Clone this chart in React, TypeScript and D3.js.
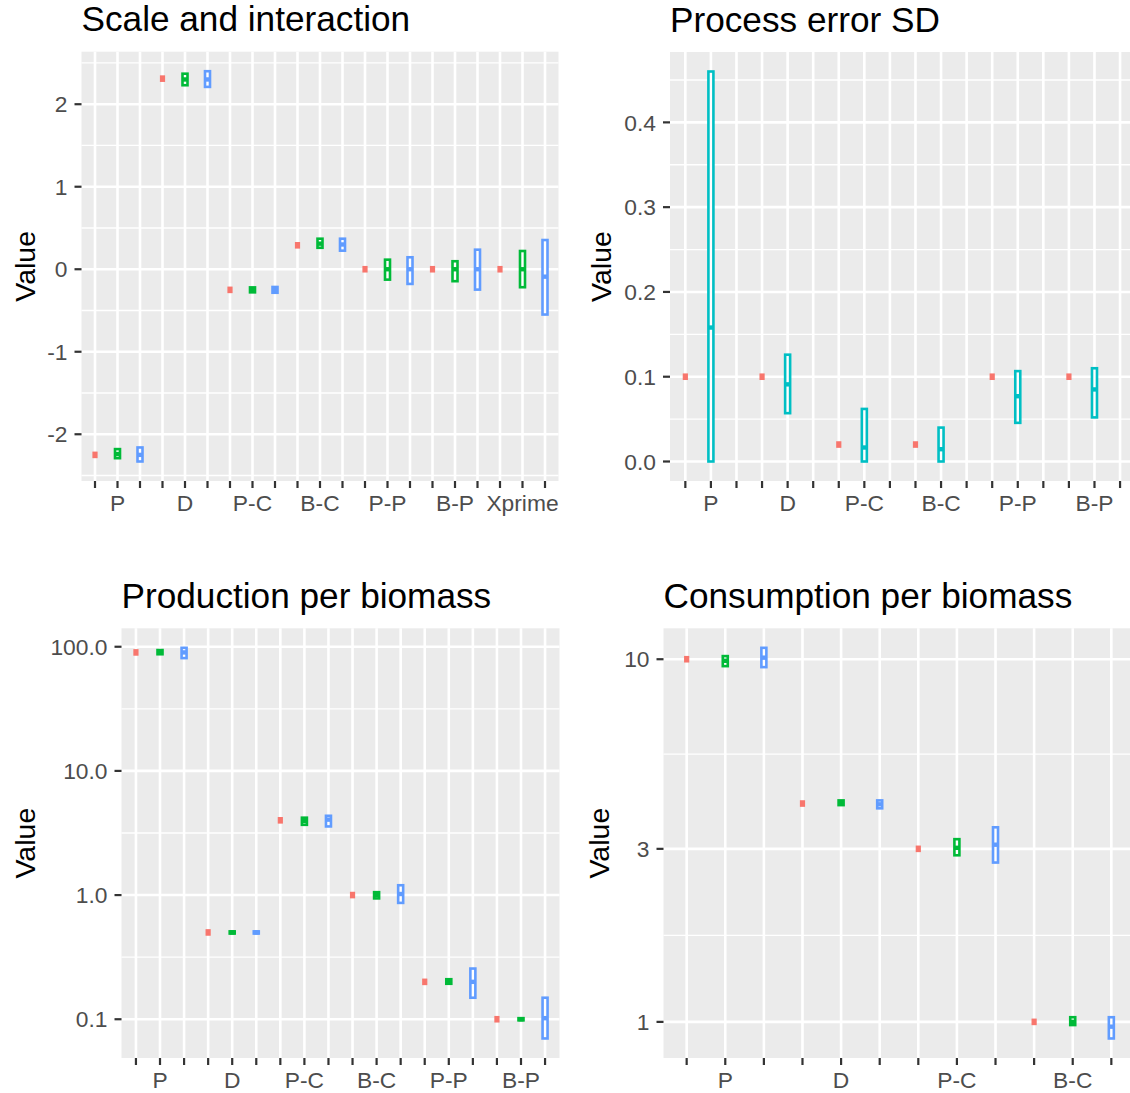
import React from "react";
import * as d3 from "d3";

// colours (ggplot hue palette)
const cRed = "#F8766D";
const cGreen = "#00BA38";
const cBlue = "#619CFF";
const cCyan = "#00BFC4";

// --- Scale and interaction ---
const scaleCats = ["P", "D", "P-C", "B-C", "P-P", "B-P", "Xprime"];
const scaleTruth = [-2.25, 2.31, -0.25, 0.29, 0, 0, 0];
// [lower hinge, median, upper hinge]
const scaleGreen = [
  [-2.29, -2.24, -2.18],
  [2.23, 2.3, 2.37],
  [-0.28, -0.25, -0.22],
  [0.26, 0.31, 0.37],
  [-0.126, 0, 0.116],
  [-0.145, 0, 0.097],
  [-0.218, 0, 0.221],
];
const scaleBlue = [
  [-2.33, -2.25, -2.16],
  [2.21, 2.3, 2.4],
  [-0.285, -0.25, -0.215],
  [0.225, 0.3, 0.37],
  [-0.178, 0, 0.145],
  [-0.247, 0, 0.237],
  [-0.549, -0.09, 0.354],
];
const scaleTicks = [-2, -1, 0, 1, 2];

// --- Process error SD ---
const sdCats = ["P", "D", "P-C", "B-C", "P-P", "B-P"];
const sdTruth = [0.1, 0.1, 0.02, 0.02, 0.1, 0.1];
const sdEst = [
  [0.0, 0.158, 0.46],
  [0.057, 0.091, 0.126],
  [0.0, 0.0165, 0.062],
  [0.0, 0.0145, 0.04],
  [0.0456, 0.077, 0.1066],
  [0.052, 0.085, 0.11],
];
const sdTicks = [0, 0.1, 0.2, 0.3, 0.4];

// --- Production per biomass ---
const pbCats = ["P", "D", "P-C", "B-C", "P-P", "B-P"];
const pbTruth = [90, 0.5, 4, 1, 0.2, 0.1];
const pbGreen = [
  [87, 91, 94],
  [0.49, 0.5, 0.51],
  [3.68, 3.95, 4.2],
  [0.94, 1.0, 1.055],
  [0.193, 0.2, 0.21],
  [0.098, 0.1, 0.102],
];
const pbBlue = [
  [81, 90, 98],
  [0.49, 0.5, 0.51],
  [3.57, 4.05, 4.35],
  [0.865, 1.02, 1.2],
  [0.149, 0.2, 0.256],
  [0.07, 0.102, 0.149],
];
const pbTicks = [0.1, 1, 10, 100];

// --- Consumption per biomass ---
const qbCats = ["P", "D", "P-C", "B-C"];
const qbTruth = [10, 4, 3, 1];
const qbGreen = [
  [9.57, 9.9, 10.2],
  [3.96, 4.02, 4.08],
  [2.88, 3.02, 3.19],
  [0.98, 1.0, 1.03],
];
const qbBlue = [
  [9.51, 10.1, 10.75],
  [3.88, 3.98, 4.08],
  [2.75, 3.08, 3.44],
  [0.9, 0.97, 1.03],
];
const qbTicks = [1, 3, 10];

const FONT = "'Liberation Sans', Arial, sans-serif";

function Panel({ box, title, cats, truth, ests, colors, log, ticks, fmt }: any) {
  const n = cats.length * 3;
  const x = d3
    .scalePoint<number>()
    .domain(d3.range(n))
    .range([box.l, box.r])
    .padding(0.6);

  const tf = (v: number) => (log ? Math.log10(v) : v);
  const inv = (v: number) => (log ? Math.pow(10, v) : v);
  const all: number[] = [...truth];
  ests.forEach((s: number[][]) => s.forEach((d) => all.push(d[0], d[2])));
  const [a, b] = d3.extent(all.map(tf)) as [number, number];
  const pad = (b - a) * 0.05;
  const dom = [inv(a - pad), inv(b + pad)];
  const y: any = log
    ? d3.scaleLog().domain(dom).range([box.b, box.t])
    : d3.scaleLinear().domain(dom).range([box.b, box.t]);

  // minor breaks: midpoints in transformed space
  const tt = ticks.map(tf);
  const ext = [tt[0] - (tt[1] - tt[0]), ...tt, tt[tt.length - 1] + (tt[tt.length - 1] - tt[tt.length - 2])];
  const minor: number[] = [];
  for (let i = 0; i < ext.length - 1; i++) {
    const m = (ext[i] + ext[i + 1]) / 2;
    if (m > a - pad && m < b + pad) minor.push(inv(m));
  }

  const bw = 5;
  return (
    <g>
      <rect x={box.l} y={box.t} width={box.r - box.l} height={box.b - box.t} fill="#EBEBEB" />
      {minor.map((v, i) => (
        <line key={"mn" + i} x1={box.l} x2={box.r} y1={y(v)} y2={y(v)} stroke="#fff" strokeWidth={1.3} />
      ))}
      {ticks.map((v: number, i: number) => (
        <line key={"mj" + i} x1={box.l} x2={box.r} y1={y(v)} y2={y(v)} stroke="#fff" strokeWidth={2.6} />
      ))}
      {d3.range(n).map((i) => (
        <line key={"vx" + i} x1={x(i)} x2={x(i)} y1={box.t} y2={box.b} stroke="#fff" strokeWidth={2.6} />
      ))}
      {/* truth */}
      {truth.map((v: number, i: number) => (
        <rect key={"tr" + i} x={(x(i * 3) as number) - 2.6} y={y(v) - 3.3} width={5.2} height={6.6} fill={cRed} />
      ))}
      {/* estimate boxes */}
      {ests.map((s: number[][], k: number) =>
        s.map((d, i) => {
          const cx = x(i * 3 + k + 1) as number;
          return (
            <g key={"bx" + k + "-" + i}>
              <rect
                x={cx - bw / 2}
                y={y(d[2])}
                width={bw}
                height={Math.max(0, y(d[0]) - y(d[2]))}
                fill="#fff"
                stroke={colors[k]}
                strokeWidth={2.6}
              />
              <line x1={cx - bw / 2} x2={cx + bw / 2} y1={y(d[1])} y2={y(d[1])} stroke={colors[k]} strokeWidth={4.4} />
            </g>
          );
        })
      )}
      {/* y axis */}
      {ticks.map((v: number, i: number) => (
        <g key={"yt" + i}>
          <line x1={box.l - 7} x2={box.l} y1={y(v)} y2={y(v)} stroke="#333333" strokeWidth={2.2} />
          <text x={box.l - 14} y={y(v)} dy="0.36em" textAnchor="end" fontSize={22.8} fill="#4D4D4D" fontFamily={FONT}>
            {fmt(v)}
          </text>
        </g>
      ))}
      {/* x axis */}
      {d3.range(n).map((i) => (
        <line key={"xt" + i} x1={x(i)} x2={x(i)} y1={box.b} y2={box.b + 7} stroke="#333333" strokeWidth={2.2} />
      ))}
      {cats.map((c: string, i: number) => (
        <text key={"xl" + i} x={x(i * 3 + 1)} y={box.b + 29.5} textAnchor="middle" fontSize={22.8} fill="#4D4D4D" fontFamily={FONT}>
          {c}
        </text>
      ))}
      <text x={box.l} y={box.t - 20.5} fontSize={35.2} fill="#000" fontFamily={FONT}>
        {title}
      </text>
      <text
        transform={`translate(${box.l - 46.5 - (box.labW || 0)},${(box.t + box.b) / 2}) rotate(-90)`}
        textAnchor="middle"
        fontSize={28.5}
        fill="#000"
        fontFamily={FONT}
      >
        Value
      </text>
    </g>
  );
}

export default function App() {
  const p1 = { l: 81.5, r: 558.5, t: 51.7, b: 481, labW: 0 };
  const p2 = { l: 670, r: 1135.4, t: 52, b: 481, labW: 12.5 };
  const p3 = { l: 121.5, r: 559.5, t: 628.3, b: 1058, labW: 40 };
  const p4 = { l: 663.5, r: 1134.5, t: 628.3, b: 1058, labW: 8 };
  return (
    <svg width={1130} height={1093} style={{ position: "absolute", left: 0, top: 0, background: "#fff" }}>
      <Panel
        box={p1}
        title="Scale and interaction"
        cats={scaleCats}
        truth={scaleTruth}
        ests={[scaleGreen, scaleBlue]}
        colors={[cGreen, cBlue]}
        log={false}
        ticks={scaleTicks}
        fmt={(v: number) => String(v)}
      />
      <Panel
        box={p2}
        title="Process error SD"
        cats={sdCats}
        truth={sdTruth}
        ests={[sdEst]}
        colors={[cCyan]}
        log={false}
        ticks={sdTicks}
        fmt={d3.format(".1f")}
      />
      <Panel
        box={p3}
        title="Production per biomass"
        cats={pbCats}
        truth={pbTruth}
        ests={[pbGreen, pbBlue]}
        colors={[cGreen, cBlue]}
        log={true}
        ticks={pbTicks}
        fmt={d3.format(".1f")}
      />
      <Panel
        box={p4}
        title="Consumption per biomass"
        cats={qbCats}
        truth={qbTruth}
        ests={[qbGreen, qbBlue]}
        colors={[cGreen, cBlue]}
        log={true}
        ticks={qbTicks}
        fmt={(v: number) => String(v)}
      />
    </svg>
  );
}
